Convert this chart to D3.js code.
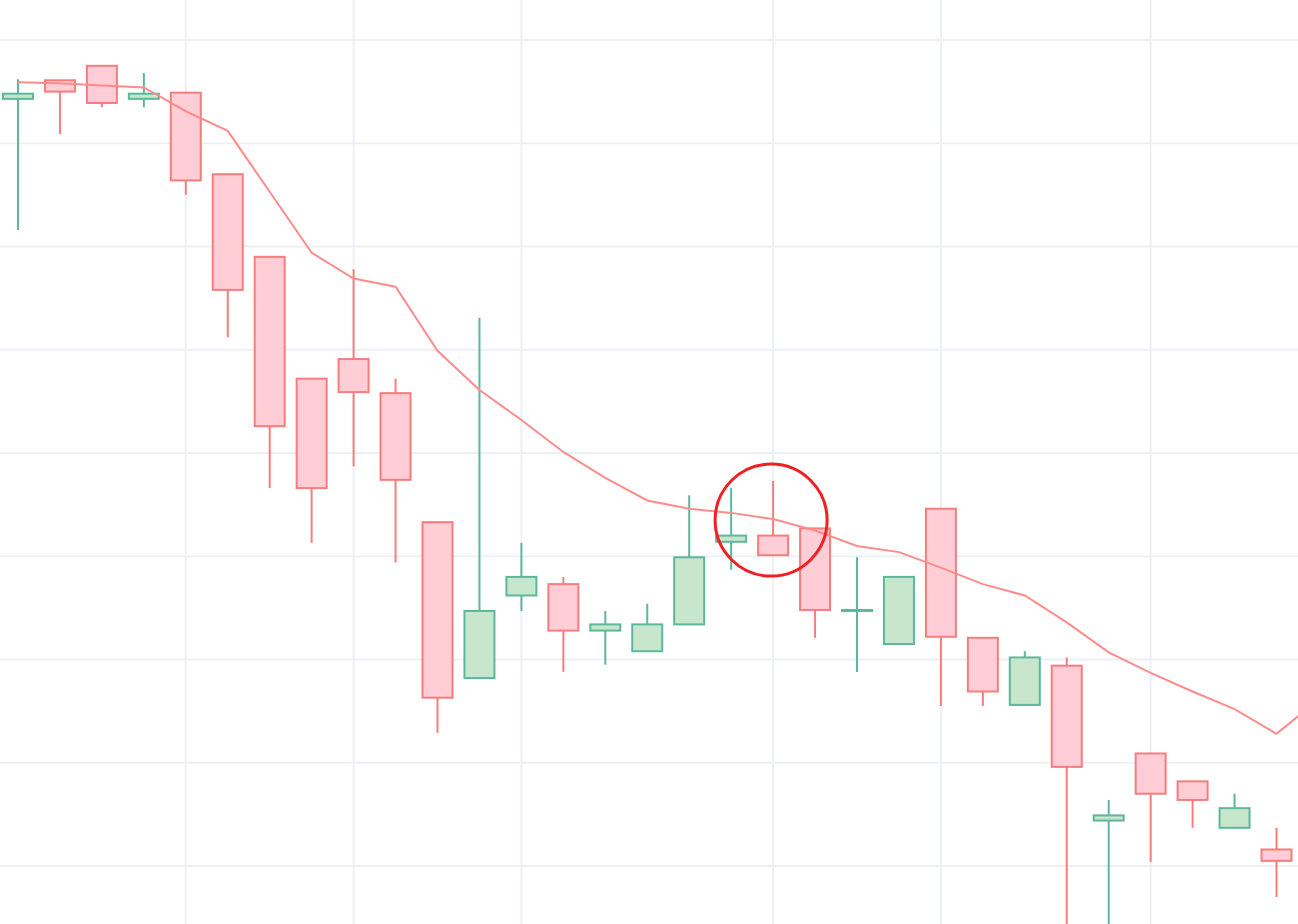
<!DOCTYPE html>
<html><head><meta charset="utf-8">
<script src="https://cdn.jsdelivr.net/npm/d3@7"></script>
<style>html,body{margin:0;background:#fff;overflow:hidden}</style>
</head><body>
<svg id="chart" width="1298" height="924"></svg>
<script>
// candles: open, high, low, close
const opens  = [74.3,76.1,77.5,74.3,74.9,67.0,59.0,47.2,49.1,45.8,33.3,18.2,26.2,27.3,22.8,20.8,23.4,31.4,32.0,32.7,24.7,21.5,34.6,22.1,15.6,19.4,4.4,10.9,8.2,3.7,1.6];
const highs  = [76.2,76.1,77.5,76.8,74.9,67.0,59.0,45.9,57.8,47.2,33.3,53.1,31.3,28.0,24.7,25.4,35.9,36.6,37.3,32.7,29.9,28.0,34.6,22.1,20.8,20.2,6.4,10.9,8.2,7.0,3.7];
const lows   = [61.6,70.9,73.5,73.5,65.0,51.2,36.6,31.3,38.7,29.4,12.9,18.2,24.7,18.8,19.5,20.8,23.4,28.7,30.1,22.1,18.8,21.5,15.5,15.5,15.6,-6.3,-6.3,0.4,3.7,3.7,-3.0];
const closes = [74.8,75.0,73.9,74.8,66.4,55.8,42.6,36.6,45.9,37.4,16.3,24.7,28.0,22.8,23.4,23.4,29.9,32.0,30.1,24.8,24.8,28.0,22.2,16.9,20.2,9.6,4.9,7.0,6.4,5.6,0.5];
// moving average (one more point than candles, runs off the right edge)
const movingAvg = [75.9,75.8,75.6,75.4,73.1,71.2,65.3,59.4,56.9,56.1,49.9,46.1,43.2,40.1,37.6,35.4,34.6,34.2,33.6,32.5,31.0,30.4,28.9,27.3,26.2,23.6,20.7,18.7,16.9,15.2,12.8,16.1];
const priceTicks = [0,10,20,30,40,50,60,70,80];
const dateGridIdx = [4,8,12,18,22,27];
const highlightIdx = 18;

const W = 1298, H = 924;
const svg = d3.select("#chart");
const n = movingAvg.length;
const step = 41.95;
const x = d3.scaleLinear().domain([0, n - 1]).range([18, 18 + step * (n - 1)]);
const y = d3.scaleLinear().domain([0, 80]).range([866, 40]);

const grid = svg.append("g").attr("stroke", "#eef0f7").attr("stroke-width", 2);
grid.selectAll(".h").data(priceTicks).join("line")
  .attr("x1", 0).attr("x2", W).attr("y1", d => y(d)).attr("y2", d => y(d));
grid.selectAll(".v").data(dateGridIdx).join("line")
  .attr("y1", 0).attr("y2", H).attr("x1", d => x(d)).attr("x2", d => x(d));

const candles = opens.map((o, i) => ({i, o, h: highs[i], l: lows[i], c: closes[i], up: closes[i] >= o}));
const bw = 30;
const g = svg.append("g");
const cg = g.selectAll("g").data(candles).join("g")
  .attr("stroke", d => d.up ? "#5cb89c" : "#f77d7d").attr("stroke-width", 2);
cg.append("line")
  .attr("x1", d => x(d.i)).attr("x2", d => x(d.i))
  .attr("y1", d => y(d.h)).attr("y2", d => y(d.l));
cg.append("rect")
  .attr("x", d => x(d.i) - bw / 2).attr("width", bw)
  .attr("y", d => y(Math.max(d.o, d.c)))
  .attr("height", d => Math.max(1, Math.abs(y(d.o) - y(d.c))))
  .attr("fill", d => d.up ? "#c8e6cb" : "#ffcdd5");

svg.append("path").datum(movingAvg)
  .attr("fill", "none").attr("stroke", "#ff8c8c").attr("stroke-width", 2)
  .attr("d", d3.line().x((d, i) => x(i)).y(d => y(d)));

svg.append("circle")
  .attr("cx", x(highlightIdx) - 2).attr("cy", y(33.5)).attr("r", 56)
  .attr("fill", "none").attr("stroke", "#f02020").attr("stroke-width", 3);
</script>
</body></html>
